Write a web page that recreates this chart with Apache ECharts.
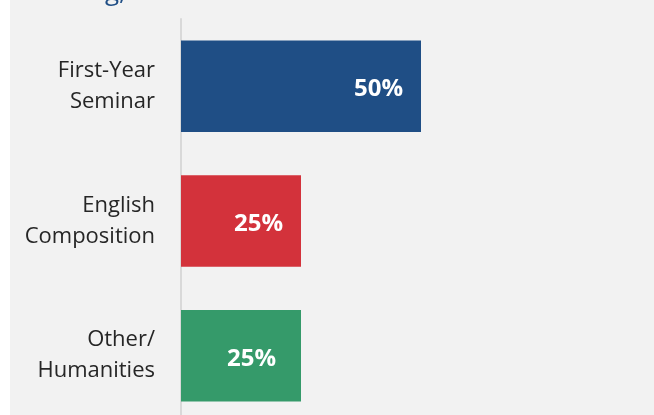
<!DOCTYPE html>
<html>
<head>
<meta charset="utf-8">
<script src="https://cdn.jsdelivr.net/npm/echarts@6/dist/echarts.min.js"></script>
<style>
  html, body { margin: 0; padding: 0; background: #ffffff; overflow: hidden; }
  #chart { width: 654px; height: 430px; }
</style>
</head>
<body>
<div id="chart"></div>
<script>
// 课程类别和占比
const categories = ['First-Year\nSeminar', 'English\nComposition', 'Other/\nHumanities']
const shares = [50, 25, 25]
const barColors = ['#1f4e85', '#d3323b', '#359a6a']
const labelDistances = [18, 18, 25]

const chart = echarts.init(document.getElementById('chart'))

chart.setOption({
  backgroundColor: '#ffffff',
  animation: false,
  graphic: [
    // 灰色面板背景
    { type: 'rect', shape: { x: 10, y: 0, width: 644, height: 430 }, style: { fill: '#f2f2f2' }, z: -10 },
    // 被裁掉的标题末尾
    {
      type: 'text', left: 32, top: -20,
      style: { text: 'Writing,', fill: '#1f4e85', font: '26px "Open Sans"' }
    }
  ],
  grid: { left: 181, top: 19, width: 264, height: 404 },
  xAxis: {
    type: 'value', min: 0, max: 55,
    show: false
  },
  yAxis: {
    type: 'category',
    inverse: true,
    data: categories,
    axisLine: { show: true, lineStyle: { color: '#d9d9d9', width: 2 } },
    axisTick: { show: false },
    axisLabel: {
      margin: 26,
      color: '#262626',
      fontSize: 22,
      fontFamily: 'Open Sans',
      lineHeight: 31,
      align: 'right'
    }
  },
  series: [{
    type: 'bar',
    barCategoryGap: '32%',
    data: shares.map((v, i) => ({
      value: v,
      itemStyle: { color: barColors[i] },
      label: { distance: labelDistances[i] }
    })),
    label: {
      show: true,
      position: 'insideRight',
      offset: [0, 3],
      formatter: '{c}%',
      color: '#ffffff',
      fontWeight: 'bold',
      fontSize: 24,
      fontFamily: 'Open Sans'
    }
  }]
})
</script>
</body>
</html>
